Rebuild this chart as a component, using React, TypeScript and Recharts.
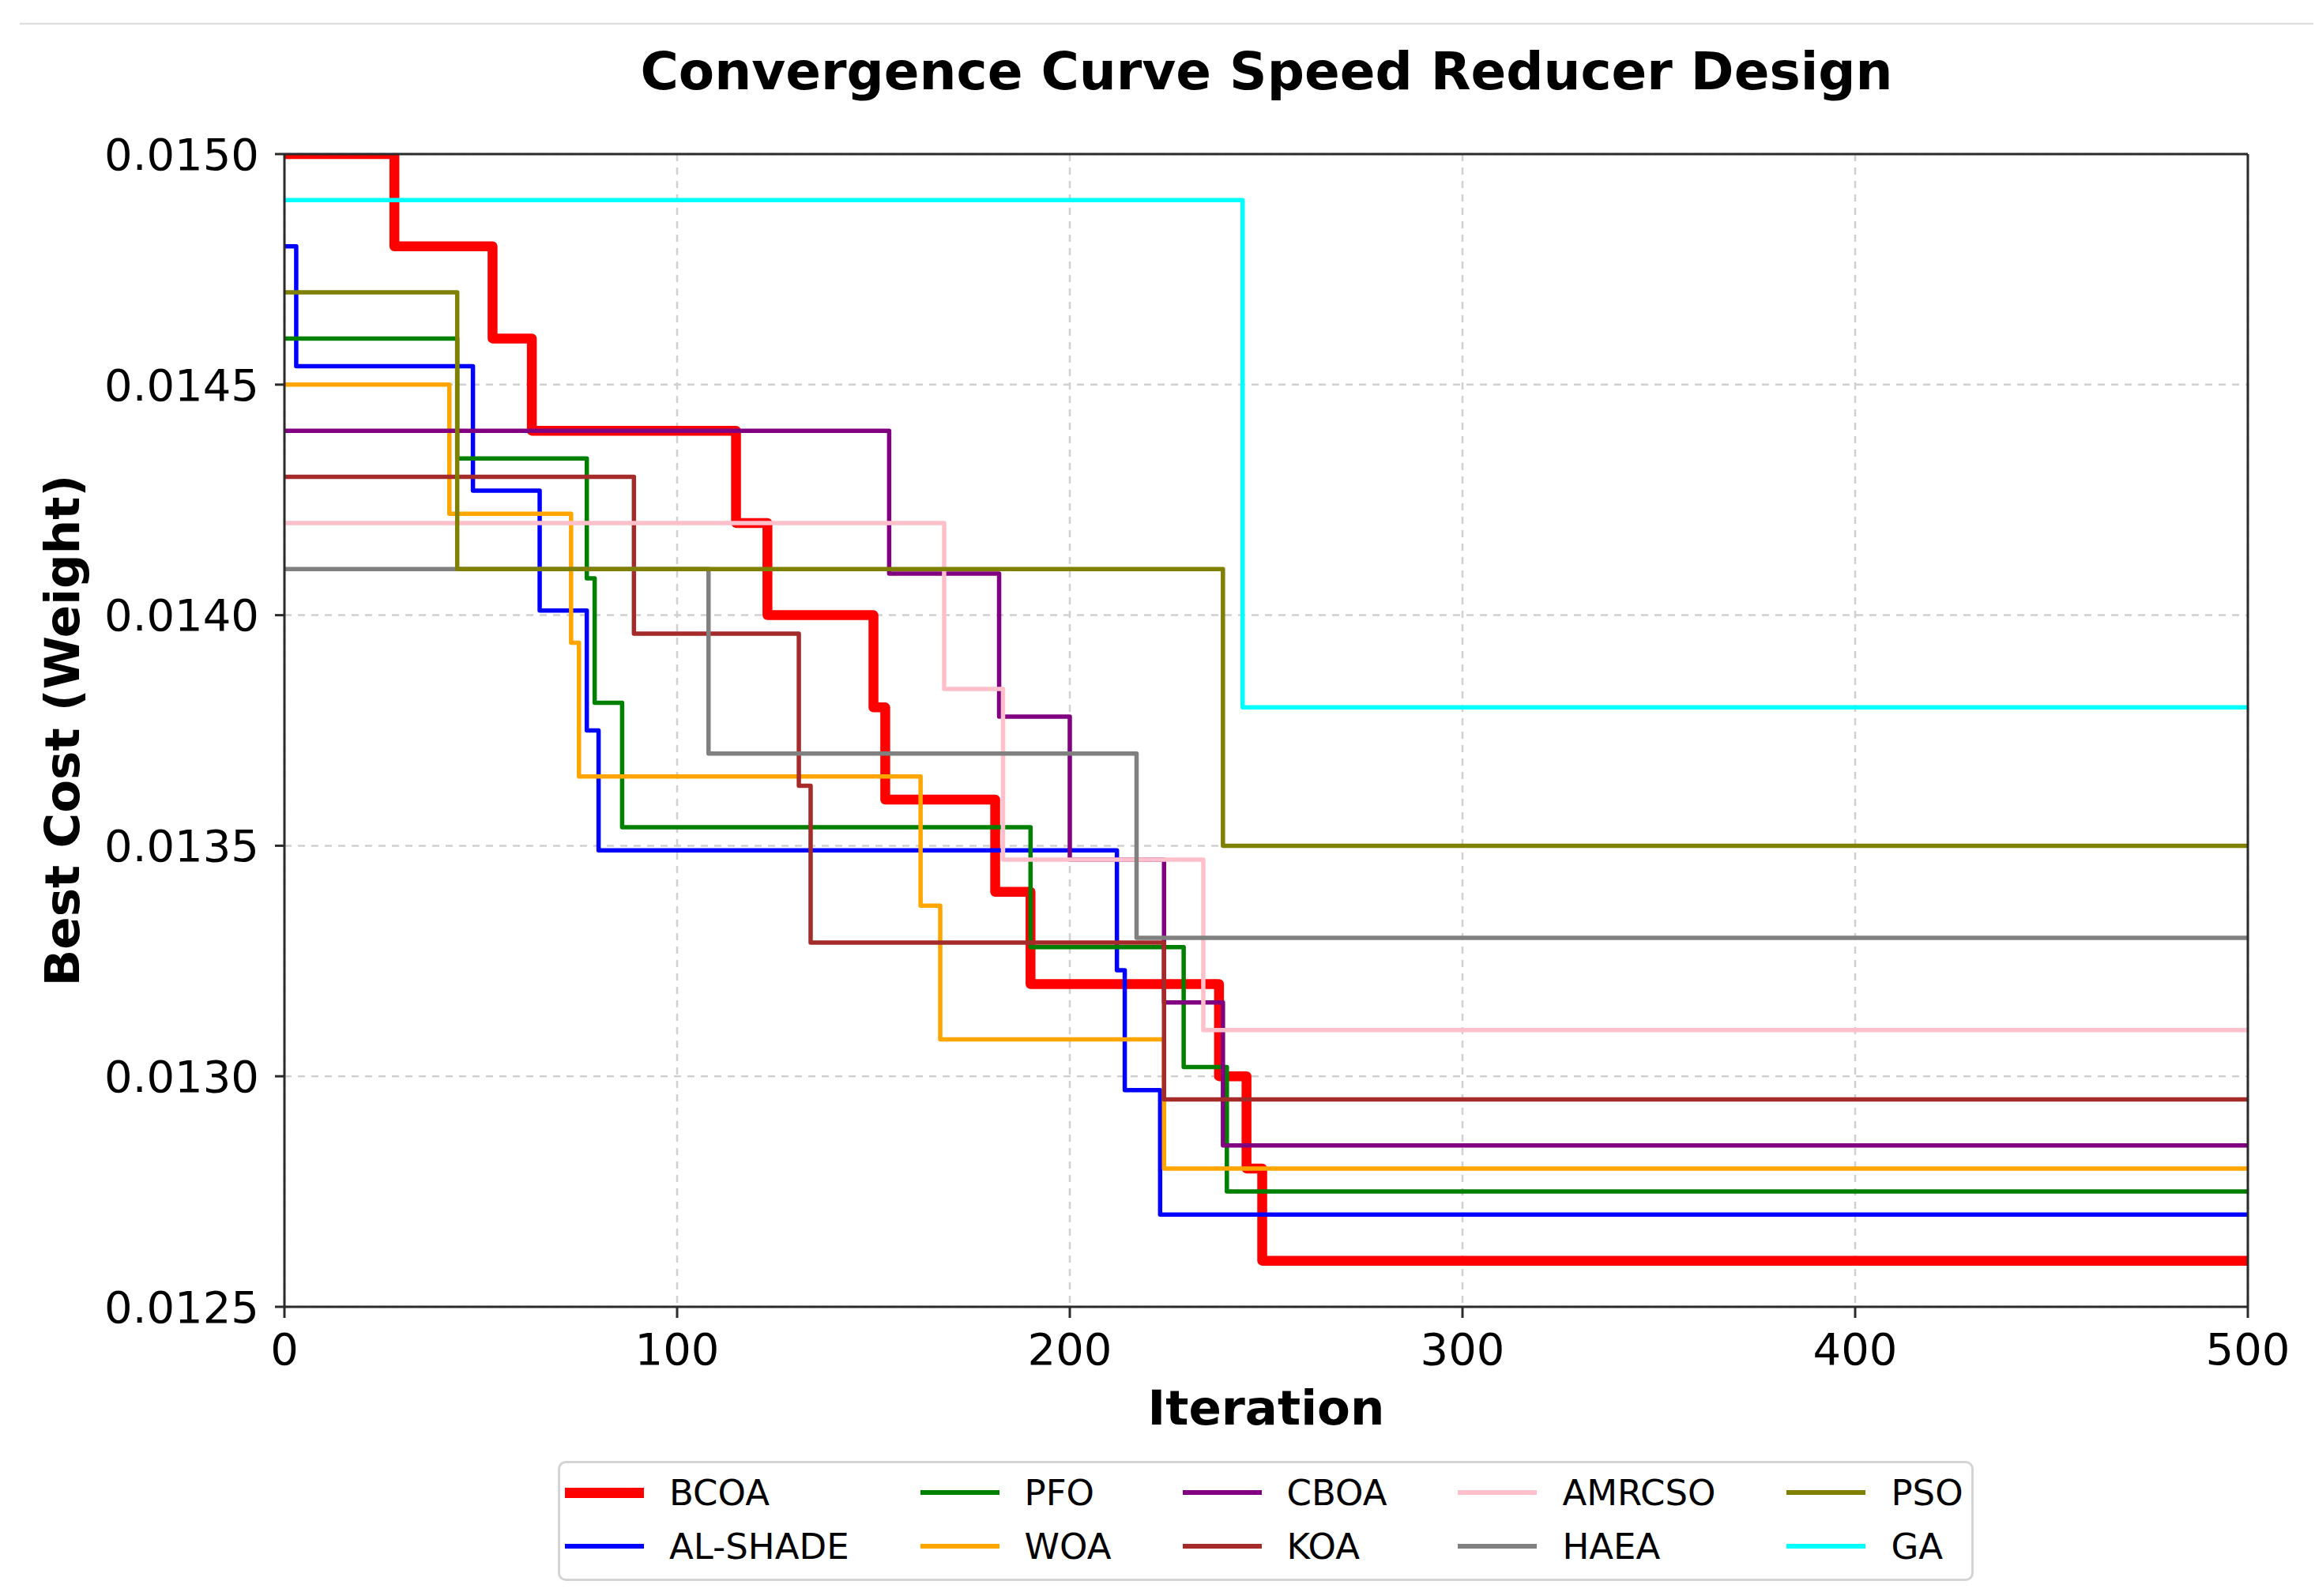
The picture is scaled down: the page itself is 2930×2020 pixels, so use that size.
import React from 'react';
import { LineChart, Line, XAxis, YAxis, CartesianGrid, Legend, ReferenceLine } from 'recharts';

// ---------- data ----------
const seriesNames = ['BCOA', 'AL-SHADE', 'PFO', 'WOA', 'CBOA', 'KOA', 'AMRCSO', 'HAEA', 'PSO', 'GA'];
const seriesColors = ['#ff0000', '#0000ff', '#008000', '#ffa500', '#800080', '#a52a2a', '#ffc0cb', '#808080', '#808000', '#00ffff'];

const bcoaIter = [0, 28, 53, 63, 115, 123, 150, 153, 181, 190, 238, 245, 249, 500];
const bcoaCost = [0.0150, 0.0148, 0.0146, 0.0144, 0.0142, 0.0140, 0.0138, 0.0136, 0.0134, 0.0132, 0.0130, 0.0128, 0.0126, 0.0126];

const alshadeIter = [0, 3, 48, 65, 77, 80, 212, 214, 223, 500];
const alshadeCost = [0.0148, 0.01454, 0.01427, 0.01401, 0.01375, 0.01349, 0.01323, 0.01297, 0.0127, 0.0127];

const pfoIter = [0, 44, 77, 79, 86, 190, 229, 240, 500];
const pfoCost = [0.0146, 0.01434, 0.01408, 0.01381, 0.01354, 0.01328, 0.01302, 0.01275, 0.01275];

const woaIter = [0, 42, 73, 75, 162, 167, 224, 500];
const woaCost = [0.0145, 0.01422, 0.01394, 0.01365, 0.01337, 0.01308, 0.0128, 0.0128];

const cboaIter = [0, 154, 182, 200, 224, 239, 500];
const cboaCost = [0.0144, 0.01409, 0.01378, 0.01347, 0.01316, 0.01285, 0.01285];

const koaIter = [0, 89, 131, 134, 224, 500];
const koaCost = [0.0143, 0.01396, 0.01363, 0.01329, 0.01295, 0.01295];

const amrcsoIter = [0, 168, 183, 234, 500];
const amrcsoCost = [0.0142, 0.01384, 0.01347, 0.0131, 0.0131];

const haeaIter = [0, 108, 217, 500];
const haeaCost = [0.0141, 0.0137, 0.0133, 0.0133];

const psoIter = [0, 44, 239, 500];
const psoCost = [0.0147, 0.0141, 0.0135, 0.0135];

const gaIter = [0, 244, 500];
const gaCost = [0.0149, 0.0138, 0.0138];

const xTicks = [0, 100, 200, 300, 400, 500];
const yTicks = [0.0125, 0.013, 0.0135, 0.014, 0.0145, 0.015];

const titleText = 'Convergence Curve Speed Reducer Design';
const xLabelText = 'Iteration';
const yLabelText = 'Best Cost (Weight)';

// ---------- build ----------
const iterLists = [bcoaIter, alshadeIter, pfoIter, woaIter, cboaIter, koaIter, amrcsoIter, haeaIter, psoIter, gaIter];
const costLists = [bcoaCost, alshadeCost, pfoCost, woaCost, cboaCost, koaCost, amrcsoCost, haeaCost, psoCost, gaCost];

const series = seriesNames.map((name, i) => ({
  name,
  color: seriesColors[i],
  data: iterLists[i].map((x, j) => ({ x, y: costLists[i][j] })),
}));

// ---------- layout ----------
const W = 2930;
const H = 2020;
const FONT = '"DejaVu Sans", Verdana, sans-serif';
const SPINE = '#2b2b2b';
const margin = { top: 195, right: 85, left: 160, bottom: 266 };
const Y_AXIS_W = 200;
const X_AXIS_H = 100;
const plotCenterX = margin.left + Y_AXIS_W + (W - margin.left - Y_AXIS_W - margin.right) / 2;

const lineWidth = (i: number) => (i === 0 ? 12.5 : 5.5);

const renderLegend = () => (
  <div
    style={{
      boxSizing: 'border-box',
      width: 1792,
      height: 152,
      border: '3px solid #d4d4d4',
      borderRadius: 10,
      background: 'rgba(255,255,255,0.85)',
      padding: '3px 0 0 6px',
      display: 'grid',
      gridTemplateRows: '68px 68px',
      gridAutoFlow: 'column',
      gridAutoColumns: 'max-content',
      columnGap: 90,
      alignContent: 'start',
      fontFamily: FONT,
    }}
  >
    {series.map((s, i) => (
      <div key={s.name} style={{ display: 'flex', alignItems: 'center', height: 68 }}>
        <div style={{ width: 100, height: i === 0 ? 13 : 5.5, background: s.color, marginRight: 32 }} />
        <span style={{ fontSize: 45, lineHeight: 1, color: '#000', whiteSpace: 'nowrap' }}>{s.name}</span>
      </div>
    ))}
  </div>
);

export default function App() {
  return (
    <div style={{ position: 'absolute', left: 0, top: 0, width: W, height: H, background: '#fff' }}>
      <LineChart width={W} height={H} margin={margin}>
        <CartesianGrid stroke="#d0d0d0" strokeWidth={2.5} strokeDasharray="9 8" />
        <XAxis
          type="number"
          dataKey="x"
          domain={[0, 500]}
          ticks={xTicks}
          interval={0}
          allowDataOverflow
          height={X_AXIS_H}
          tickSize={14}
          tickMargin={19}
          axisLine={{ stroke: SPINE, strokeWidth: 3 }}
          tickLine={{ stroke: SPINE, strokeWidth: 3 }}
          tick={{ fontSize: 56, fill: '#000', fontFamily: FONT }}
          label={{
            content: () => (
              <text x={plotCenterX} y={1803} textAnchor="middle" fontSize={61} fontWeight="bold" fontFamily={FONT} fill="#000">
                {xLabelText}
              </text>
            ),
          }}
        />
        <YAxis
          type="number"
          domain={[0.0125, 0.015]}
          ticks={yTicks}
          interval={0}
          allowDataOverflow
          width={Y_AXIS_W}
          tickSize={12}
          tickMargin={20}
          tickFormatter={(v: number) => v.toFixed(4)}
          axisLine={{ stroke: SPINE, strokeWidth: 3 }}
          tickLine={{ stroke: SPINE, strokeWidth: 3 }}
          tick={{ fontSize: 56, fill: '#000', fontFamily: FONT }}
          label={{
            content: () => (
              <text
                x={100}
                y={924.5}
                transform="rotate(-90 100 924.5)"
                textAnchor="middle"
                fontSize={61}
                fontWeight="bold"
                fontFamily={FONT}
                fill="#000"
              >
                {yLabelText}
              </text>
            ),
          }}
        />
        {series.map((s, i) => (
          <Line
            key={s.name}
            name={s.name}
            data={s.data}
            dataKey="y"
            type="stepAfter"
            stroke={s.color}
            strokeWidth={lineWidth(i)}
            strokeLinejoin="round"
            dot={false}
            activeDot={false}
            isAnimationActive={false}
          />
        ))}
        <ReferenceLine y={0.015} stroke={SPINE} strokeWidth={3} />
        <ReferenceLine x={500} stroke={SPINE} strokeWidth={3} />
        <Legend
          verticalAlign="middle"
          layout="horizontal"
          content={renderLegend}
          wrapperStyle={{ left: 706, top: 1849, width: 1792, height: 152 }}
        />
      </LineChart>
      <svg width={W} height={H} style={{ position: 'absolute', left: 0, top: 0, pointerEvents: 'none' }}>
        <line x1={25} y1={30} x2={2928} y2={30} stroke="#dedede" strokeWidth={2.5} />
        <text x={1603} y={113} textAnchor="middle" fontSize={66} fontWeight="bold" fontFamily={FONT} fill="#000">
          {titleText}
        </text>
      </svg>
    </div>
  );
}
